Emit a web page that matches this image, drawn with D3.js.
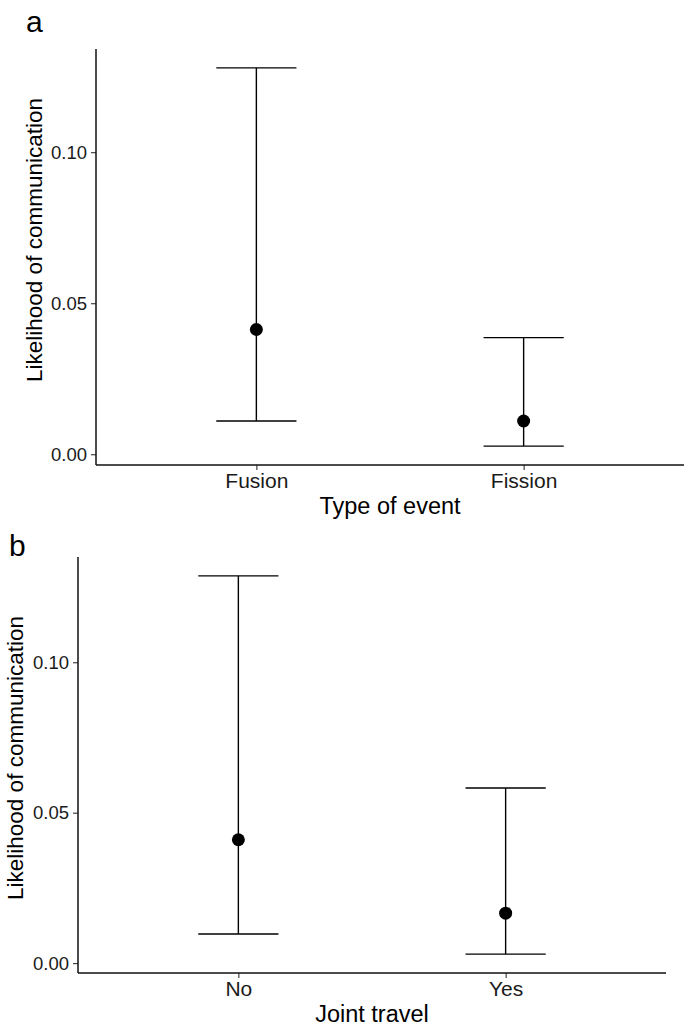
<!DOCTYPE html>
<html>
<head>
<meta charset="utf-8">
<script src="https://cdn.jsdelivr.net/npm/d3@7"></script>
<style>
  html, body { margin: 0; padding: 0; background: #fff; }
  svg { display: block; }
  text { font-family: "Liberation Sans", Arial, sans-serif; }
</style>
</head>
<body>
<svg id="chart" width="685" height="1029"></svg>
<script>
// ---- Data ----
const panelLabels = ["a", "b"];
const xTitles = ["Type of event", "Joint travel"];
const yTitle = "Likelihood of communication";
const categoriesA = ["Fusion", "Fission"];
const estimateA = [0.0413, 0.0110];
const lowerA = [0.0110, 0.0027];
const upperA = [0.1279, 0.0386];
const categoriesB = ["No", "Yes"];
const estimateB = [0.0410, 0.0166];
const lowerB = [0.0097, 0.0030];
const upperB = [0.1287, 0.0582];
const yTicks = [0.00, 0.05, 0.10];

const svg = d3.select("#chart");

function drawPanel(cfg) {
  const data = cfg.cats.map((c, i) => ({cat: c, est: cfg.est[i], lo: cfg.lo[i], hi: cfg.hi[i]}));
  const minV = d3.min(data, d => d.lo), maxV = d3.max(data, d => d.hi);
  const span = maxV - minV;
  const y = d3.scaleLinear().domain([minV - 0.05 * span, maxV + 0.05 * span]).range([cfg.bottom, cfg.top]);
  // discrete scale with 0.6 expansion on each side
  const xc = d3.scaleLinear().domain([0.4, cfg.cats.length + 0.6]).range([cfg.left, cfg.right]);
  const x = c => xc(cfg.cats.indexOf(c) + 1);
  const capHalf = (xc(1.15) - xc(1));

  const g = svg.append("g");

  // y axis
  const yAxis = d3.axisLeft(y).tickValues(yTicks).tickFormat(d3.format(".2f")).tickSize(5).tickPadding(4);
  const ya = g.append("g").attr("transform", `translate(${cfg.left},0)`).call(yAxis);
  ya.select(".domain").remove();
  ya.selectAll(".tick line").attr("stroke", "#333").attr("stroke-width", 1.1);
  ya.selectAll(".tick text").attr("fill", "#1a1a1a").style("font-size", "18.5px");
  g.append("line").attr("x1", cfg.left).attr("x2", cfg.left).attr("y1", cfg.top).attr("y2", cfg.bottom)
    .attr("stroke", "#111").attr("stroke-width", 1.5);

  // x axis
  const xAxisScale = d3.scalePoint().domain(cfg.cats).range([xc(1), xc(cfg.cats.length)]);
  const xAxis = d3.axisBottom(xAxisScale).tickSize(5).tickPadding(3);
  const xa = g.append("g").attr("transform", `translate(0,${cfg.bottom})`).call(xAxis);
  xa.select(".domain").remove();
  xa.selectAll(".tick line").attr("stroke", "#333").attr("stroke-width", 1.1);
  xa.selectAll(".tick text").attr("fill", "#1a1a1a").style("font-size", "21px");
  g.append("line").attr("x1", cfg.left).attr("x2", cfg.right).attr("y1", cfg.bottom).attr("y2", cfg.bottom)
    .attr("stroke", "#111").attr("stroke-width", 1.5);

  // error bars
  const eb = g.selectAll("g.eb").data(data).enter().append("g").attr("class", "eb");
  eb.append("line").attr("x1", d => x(d.cat)).attr("x2", d => x(d.cat))
    .attr("y1", d => y(d.lo)).attr("y2", d => y(d.hi)).attr("stroke", "#000").attr("stroke-width", 1.4);
  eb.append("line").attr("x1", d => x(d.cat) - capHalf).attr("x2", d => x(d.cat) + capHalf)
    .attr("y1", d => y(d.hi)).attr("y2", d => y(d.hi)).attr("stroke", "#000").attr("stroke-width", 1.4);
  eb.append("line").attr("x1", d => x(d.cat) - capHalf).attr("x2", d => x(d.cat) + capHalf)
    .attr("y1", d => y(d.lo)).attr("y2", d => y(d.lo)).attr("stroke", "#000").attr("stroke-width", 1.4);
  eb.append("circle").attr("cx", d => x(d.cat)).attr("cy", d => y(d.est)).attr("r", 6.5).attr("fill", "#000");

  // titles
  g.append("text").attr("x", (cfg.left + cfg.right) / 2).attr("y", cfg.bottom + 49)
    .attr("text-anchor", "middle").style("font-size", "23.5px").attr("fill", "#000").text(cfg.xTitle);
  g.append("text").attr("transform", `translate(${cfg.yTitleX},${cfg.yTitleY}) rotate(-90)`)
    .attr("text-anchor", "middle").style("font-size", "22.5px").attr("fill", "#000").text(yTitle);
  g.append("text").attr("x", cfg.labelX).attr("y", cfg.labelY)
    .style("font-size", "30px").attr("fill", "#000").text(cfg.label);
}

drawPanel({cats: categoriesA, est: estimateA, lo: lowerA, hi: upperA,
  left: 96, right: 684, top: 49, bottom: 465, xTitle: xTitles[0], label: panelLabels[0],
  yTitleX: 42, yTitleY: 240, labelX: 26, labelY: 32});
drawPanel({cats: categoriesB, est: estimateB, lo: lowerB, hi: upperB,
  left: 78, right: 666, top: 557, bottom: 973, xTitle: xTitles[1], label: panelLabels[1],
  yTitleX: 23, yTitleY: 758, labelX: 9, labelY: 556});
</script>
</body>
</html>
